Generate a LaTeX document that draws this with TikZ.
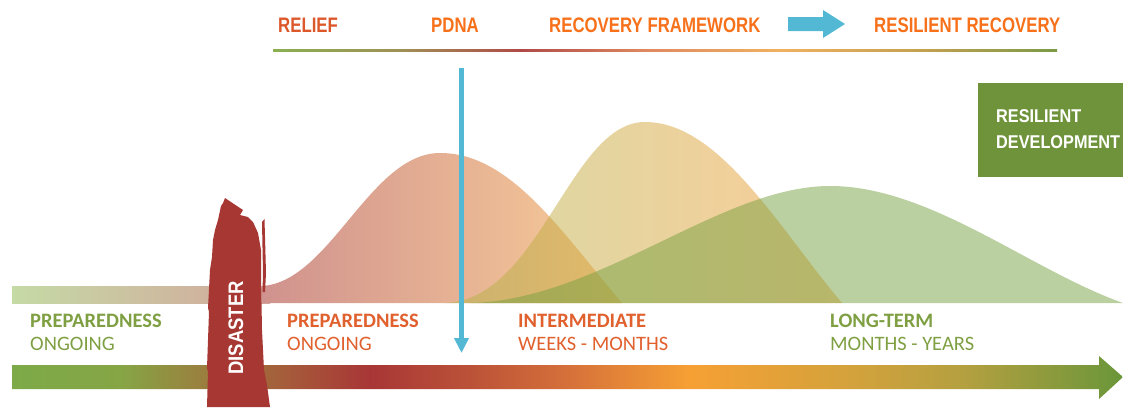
\documentclass[tikz,border=0pt]{standalone}
\usepackage{fontspec}
\usetikzlibrary{arrows.meta}
\newfontfamily\hd[FakeStretch=0.88]{Liberation Sans}
\newfontfamily\hdn[FakeStretch=0.80]{Liberation Sans}
\newfontfamily\lab{Carlito}
\definecolor{relief}{HTML}{DC582A}
\definecolor{orangeT}{HTML}{F7701A}
\definecolor{labOr}{HTML}{E0602E}
\definecolor{labGr}{HTML}{7F9F43}
\definecolor{disred}{HTML}{A63732}
\definecolor{blueA}{HTML}{52B8D4}
\definecolor{devgreen}{HTML}{6F933A}
% bottom bar colours
\definecolor{b0}{HTML}{7DAA48}
\definecolor{b1}{HTML}{86A545}
\definecolor{b2}{HTML}{9C7C3E}
\definecolor{b3}{HTML}{A65A3A}
\definecolor{b4}{HTML}{A83636}
\definecolor{b5}{HTML}{BB5238}
\definecolor{b6}{HTML}{D6713A}
\definecolor{b7}{HTML}{F6A034}
\definecolor{b8}{HTML}{D4A23C}
\definecolor{b9}{HTML}{B5A040}
\definecolor{b10}{HTML}{6A963A}
% top line colours
\definecolor{t0}{HTML}{8AB050}
\definecolor{t1}{HTML}{A09055}
\definecolor{t2}{HTML}{B04A48}
\definecolor{t3}{HTML}{E08A60}
\definecolor{t4}{HTML}{F0B060}
\definecolor{t5}{HTML}{C0A050}
\definecolor{t6}{HTML}{7A9A45}
% curves
\definecolor{c1L}{HTML}{D0928E}
\definecolor{c1M}{HTML}{EDB894}
\definecolor{c1R}{HTML}{F9CD98}
\definecolor{c2L}{HTML}{B0B44A}
\definecolor{c2R}{HTML}{F59A30}
\definecolor{c3}{HTML}{78A141}
\definecolor{bandL}{HTML}{C5DAA5}
\definecolor{bandR}{HTML}{D3A69C}
\pgfdeclarehorizontalshading{bottombar}{100bp}{color(0bp)=(b0); color(25bp)=(b0); color(29.9bp)=(b1); color(33.9bp)=(b2); color(37.5bp)=(b3); color(41.1bp)=(b4); color(45.6bp)=(b5); color(50.1bp)=(b6); color(55.5bp)=(b7); color(62.7bp)=(b8); color(67.7bp)=(b9); color(75bp)=(b10); color(100bp)=(b10)}
\pgfdeclarehorizontalshading{topline}{100bp}{color(0bp)=(t0); color(25bp)=(t0); color(33.1bp)=(t1); color(40.8bp)=(t2); color(49bp)=(t3); color(57.3bp)=(t4); color(66.9bp)=(t5); color(75bp)=(t6); color(100bp)=(t6)}
\tikzset{
  toptext/.style={anchor=base west, inner sep=0pt, font=\hdn\bfseries\fontsize{21}{24}\selectfont},
  labbold/.style={anchor=base west, inner sep=0pt, font=\lab\bfseries\fontsize{20.5}{24}\selectfont},
  labreg/.style={anchor=base west, inner sep=0pt, font=\lab\fontsize{20.5}{24}\selectfont},
  devtext/.style={anchor=base west, inner sep=0pt, text=white, font=\hd\bfseries\fontsize{18.5}{22}\selectfont},
}
\begin{document}
\begin{tikzpicture}[x=1pt,y=-1pt]
\useasboundingbox (0,0) rectangle (1123,407);
% top line
\shade[shading=topline] (273,49.3) rectangle (1057,51.7);
% top texts
\node[toptext, text=relief] (relief) at (278,32) {RELIEF};
\node[toptext, text=orangeT] (pdna) at (431,32) {PDNA};
\node[toptext, text=orangeT] (recfw) at (549,32) {RECOVERY FRAMEWORK};
\node[toptext, text=orangeT] (resrec) at (874,32) {RESILIENT RECOVERY};
% blue block arrow
\fill[blueA] (788,17) -- (823,17) -- (823,10) -- (845,24) -- (823,38) -- (823,31) -- (788,31) -- cycle;
% left band
\shade[left color=bandL, right color=bandR] (12,286) rectangle (270,303);
% curves
\shade[left color=c1L, middle color=c1M, right color=c1R] (262,303) -- (262,286) .. controls (330,282) and (370,153) .. (440,153) .. controls (510,153) and (560,230) .. (622,303) -- cycle;
\shade[left color=c2L, right color=c2R, opacity=0.5] (445,303) .. controls (540,300) and (570,122) .. (645,122) .. controls (720,122) and (780,230) .. (842,303) -- cycle;
\fill[c3, opacity=0.5] (470,303) .. controls (600,300) and (720,186) .. (830,186) .. controls (930,186) and (1030,270) .. (1123,303) -- cycle;
% bottom arrow
\shade[shading=bottombar] (12,365) -- (1099,365) -- (1099,356) -- (1123,377) -- (1099,399) -- (1099,389) -- (12,389) -- cycle;
% disaster
\fill[disred] (207,407) -- (208,372) -- (207,368) -- (208,340) -- (209,312) -- (208,308) -- (210,270) -- (212,257) -- (213,240) -- (215,230) -- (218,220) -- (221,206) -- (223,203) -- (225,198) -- (234,204) -- (243,210) -- (240,215) -- (248,217) -- (253,222) -- (258,233) -- (261,250) -- (261,275) -- (262,330) -- (264,370) -- (267,385) -- (270,407) -- cycle;
\fill[disred] (262,222) -- (264.5,219) -- (266,273) -- (265,292) -- (262.5,292) -- (263,273) -- cycle;
\node[rotate=90, text=white, inner sep=0pt, font=\hd\bfseries\fontsize{21}{24}\selectfont] (disaster) at (236,328) {DISASTER};
% blue vertical arrow
\coordinate (pTop) at (461.5,68);
\coordinate (pBot) at (461.5,353);
\draw[blueA, line width=5pt, -{Triangle[width=14pt,length=15pt]}] (pTop) -- (pBot);
% resilient development
\node[fill=devgreen, anchor=north west, minimum width=145pt, minimum height=94pt, inner sep=0pt] (devbox) at (978,83) {};
\node[devtext] (dev1) at (996,122.5) {RESILIENT};
\node[devtext] (dev2) at (996,148) {DEVELOPMENT};
% labels
\node[labbold, text=labGr] (l1a) at (30,327) {PREPAREDNESS};
\node[labreg, text=labGr] (l1b) at (30,350) {ONGOING};
\node[labbold, text=labOr] (l2a) at (287,327) {PREPAREDNESS};
\node[labreg, text=labOr] (l2b) at (287,350) {ONGOING};
\node[labbold, text=labOr] (l3a) at (518,327) {INTERMEDIATE};
\node[labreg, text=labOr] (l3b) at (518,350) {WEEKS - MONTHS};
\node[labbold, text=labGr] (l4a) at (830,327) {LONG-TERM};
\node[labreg, text=labGr] (l4b) at (830,350) {MONTHS - YEARS};
\end{tikzpicture}
\end{document}
